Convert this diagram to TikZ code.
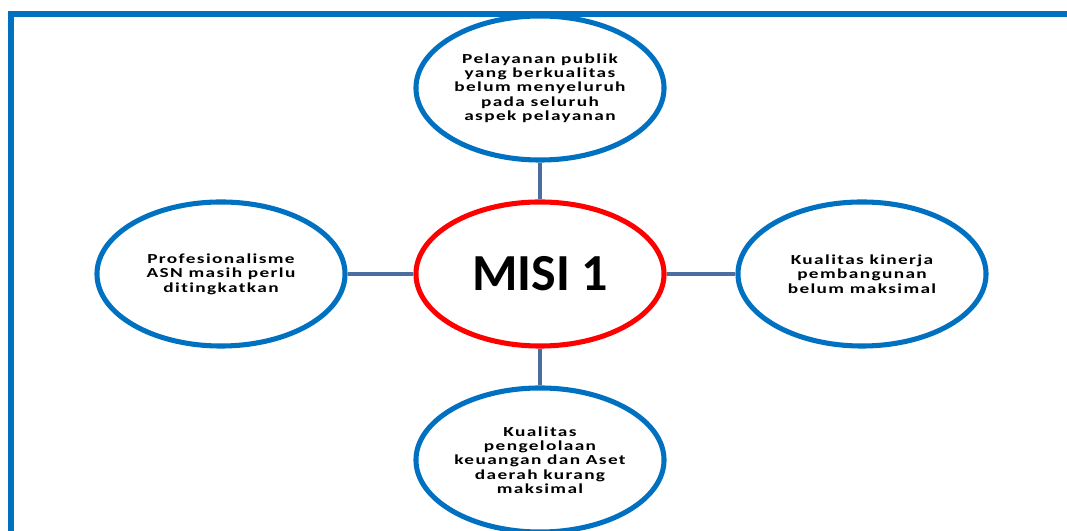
\documentclass[tikz,border=0pt]{standalone}
\usepackage{fontspec}
\setmainfont{Carlito}
\newfontfamily\widefont[FakeStretch=1.4,LetterSpace=10,Ligatures=NoCommon]{Carlito}
\usetikzlibrary{shapes.geometric}
\definecolor{frameblue}{HTML}{0070C0}
\definecolor{misired}{HTML}{FF0000}
\definecolor{linkblue}{HTML}{4A6E9E}
\begin{document}
\begin{tikzpicture}[x=0.025cm,y=0.025cm]
\tikzstyle{issue}=[draw=frameblue,line width=3.6pt,ellipse,fill=white,minimum width=6.2cm,minimum height=3.6cm,inner sep=0pt,align=center,font=\widefont\bfseries\fontsize{9.8}{10.2}\selectfont]
\tikzstyle{link}=[draw=linkblue,line width=3pt]
\useasboundingbox (0,0) rectangle (1067,531);
\draw[frameblue,line width=4.5pt] (11,0) -- (11,517) -- (1067,517);
\node[issue,draw=misired,font=\bfseries\fontsize{37}{40}\selectfont](misi) at (540,257) {MISI 1};
\node[issue](atas) at (540,443) {Pelayanan publik\\yang berkualitas\\belum menyeluruh\\pada seluruh\\aspek pelayanan};
\node[issue](kiri) at (221,257) {Profesionalisme\\ASN masih perlu\\ditingkatkan};
\node[issue](kanan) at (862,257) {Kualitas kinerja\\pembangunan\\belum maksimal};
\node[issue](bawah) at (540,71) {Kualitas\\pengelolaan\\keuangan dan Aset\\daerah kurang\\maksimal};
\draw[link] (misi.north) -- (atas.south);
\draw[link] (misi.west) -- (kiri.east);
\draw[link] (misi.east) -- (kanan.west);
\draw[link] (misi.south) -- (bawah.north);
\end{tikzpicture}
\end{document}
